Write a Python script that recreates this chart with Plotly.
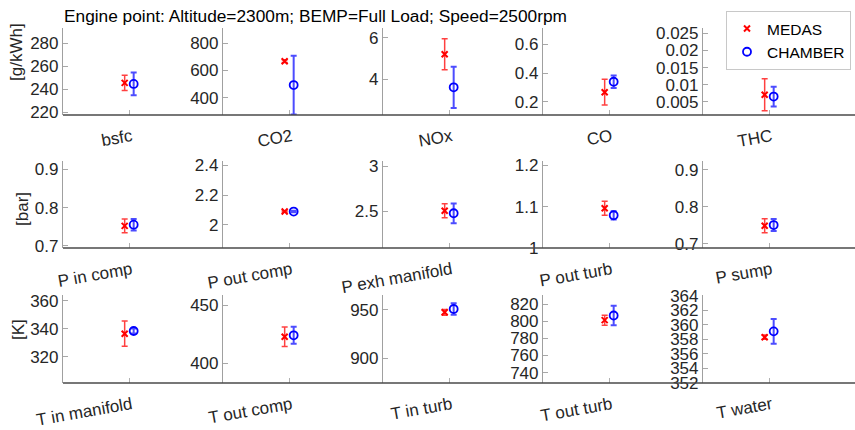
import plotly.graph_objects as go

W, H = 855, 430

title_text = "Engine point: Altitude=2300m; BEMP=Full Load; Speed=2500rpm"
row_units = ["[g/kWh]", "[bar]", "[K]"]

categories = [
    ["bsfc", "CO2", "NOx", "CO", "THC"],
    ["P in comp", "P out comp", "P exh manifold", "P out turb", "P sump"],
    ["T in manifold", "T out comp", "T in turb", "T out turb", "T water"],
]

medas_mean = [
    [245.5, 668, 5.2, 0.266, 0.00705],
    [0.752, 2.09, 2.503, 1.096, 0.749],
    [336.4, 422.8, 947.6, 801.2, 358.3],
]
medas_err = [
    [6.5, 10, 0.75, 0.09, 0.0047],
    [0.018, 0.005, 0.078, 0.017, 0.019],
    [9.0, 8.3, 3.0, 5.8, 0.3],
]
chamber_mean = [
    [244.6, 493, 3.6, 0.339, 0.0065],
    [0.755, 2.09, 2.475, 1.079, 0.751],
    [338.3, 424.0, 951.0, 806.6, 359.1],
]
chamber_err = [
    [9.8, 216, 1.0, 0.044, 0.0029],
    [0.015, 0.005, 0.11, 0.010, 0.016],
    [1.8, 7.3, 6.0, 11.3, 1.7],
]

y_ranges = [
    [[217.7, 293], [273, 912], [2.26, 6.47], [0.107, 0.714], [0.0011, 0.0266]],
    [[0.694, 0.922], [1.845, 2.43], [2.089, 3.056], [1.0, 1.21], [0.689, 0.924]],
    [[301.2, 364], [383.1, 458.6], [874.4, 965.5], [728, 830.5], [352, 364.1]],
]
y_ticks = [
    [[220, 240, 260, 280], [400, 600, 800], [4, 6], [0.2, 0.4, 0.6],
     [0.005, 0.01, 0.015, 0.02, 0.025]],
    [[0.7, 0.8, 0.9], [2, 2.2, 2.4], [2.5, 3], [1, 1.1, 1.2], [0.7, 0.8, 0.9]],
    [[320, 340, 360], [400, 450], [900, 950], [740, 760, 780, 800, 820],
     [352, 354, 356, 358, 360, 362, 364]],
]

FONT = "Liberation Sans, Arial, sans-serif"
FS = 17
TXT = "#262626"
col_left = [63, 223, 383, 543, 703]
col_w = 160
row_px = [(28, 115), (161, 248), (295, 383)]
x_full = 2.4
off_m, off_c = -0.075, 0.06
ANG = 10

fig = go.Figure()
layout = {}
shapes = []
k = 0
for r in range(3):
    top, bot = row_px[r]
    shapes.append(dict(type="line", xref="paper", yref="paper",
                       x0=col_left[0] / W, x1=1.0, y0=1 - bot / H, y1=1 - bot / H,
                       line=dict(color="#4a4a4a", width=1.3), layer="above"))
    for c in range(5):
        k += 1
        xa = "x" if k == 1 else f"x{k}"
        ya = "y" if k == 1 else f"y{k}"
        xkey = "xaxis" if k == 1 else f"xaxis{k}"
        ykey = "yaxis" if k == 1 else f"yaxis{k}"
        left = col_left[c]
        right = min(left + col_w, W)
        xr = x_full * (right - left) / col_w
        first = (k == 1)
        fig.add_trace(go.Scatter(
            x=[1 + off_m], y=[medas_mean[r][c]], xaxis=xa, yaxis=ya,
            mode="markers", name="MEDAS", legendgroup="MEDAS", showlegend=first,
            marker=dict(symbol="x-thin", size=6, color="#ff0000",
                        line=dict(width=2, color="#ff0000")),
            error_y=dict(type="data", array=[medas_err[r][c]], visible=True,
                         color="rgba(255,0,0,0.75)", thickness=1.5, width=3),
        ))
        fig.add_trace(go.Scatter(
            x=[1 + off_c], y=[chamber_mean[r][c]], xaxis=xa, yaxis=ya,
            mode="markers", name="CHAMBER", legendgroup="CHAMBER", showlegend=first,
            marker=dict(symbol="circle-open", size=8, color="#0000ff",
                        line=dict(width=1.8, color="#0000ff")),
            error_y=dict(type="data", array=[chamber_err[r][c]], visible=True,
                         color="rgba(0,0,255,0.7)", thickness=2, width=3),
        ))
        lab = categories[r][c]
        layout[xkey] = dict(
            domain=[left / W, right / W], range=[0, xr], anchor=ya,
            tickmode="array", tickvals=[1], ticktext=[lab],
            tickangle=-ANG, ticks="inside", ticklen=5, tickcolor="#b0b0b0",
            showline=False, showgrid=False, zeroline=False, fixedrange=True,
            automargin=False,
            tickfont=dict(family=FONT, size=FS, color=TXT),
            ticklabelstandoff=8, ticklabelshift=2,
        )
        yt = y_ticks[r][c]
        layout[ykey] = dict(
            domain=[1 - bot / H, 1 - top / H], range=y_ranges[r][c], anchor=xa,
            tickmode="array", tickvals=yt, ticktext=[f"{v:g}" for v in yt],
            ticks="inside", ticklen=5, tickcolor="#a8a8a8",
            showline=True, linecolor="#a0a0a0", linewidth=1.2,
            showgrid=False, zeroline=False, fixedrange=True,
            automargin=False,
            tickfont=dict(family=FONT, size=FS, color=TXT),
        )

annotations = [
    dict(text=title_text, x=62 / W, y=1 - 16 / H, xref="paper", yref="paper",
         xanchor="left", yanchor="middle", showarrow=False,
         font=dict(family=FONT, size=17.3, color="#000000")),
]
unit_pos = [(17, 52), (23, 209), (18, 330)]
for u, (px, py) in zip(row_units, unit_pos):
    annotations.append(dict(text=u, x=px / W, y=1 - py / H, xref="paper", yref="paper",
                            xanchor="center", yanchor="middle", showarrow=False,
                            textangle=-90, font=dict(family=FONT, size=FS, color=TXT)))

fig.update_layout(
    template="none",
    width=W, height=H, autosize=False, margin=dict(l=0, r=0, t=0, b=0, pad=0),
    paper_bgcolor="white", plot_bgcolor="white",
    annotations=annotations,
    shapes=shapes,
    legend=dict(x=726 / W, y=1 - 11 / H, xanchor="left", yanchor="top",
                bgcolor="white", bordercolor="#c8c8c8", borderwidth=1,
                font=dict(family=FONT, size=15.5, color="#000000"),
                itemwidth=30, tracegroupgap=0),
    **layout,
)

fig.write_html("out.html")
